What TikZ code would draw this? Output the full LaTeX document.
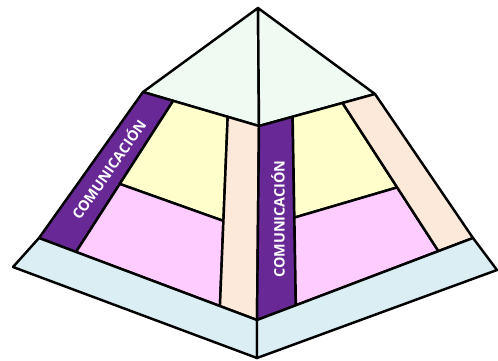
\documentclass[tikz,border=0pt]{standalone}
\usepackage{fontspec}
\newfontfamily\labelfont{Open Sans}
\usetikzlibrary{calc}

\definecolor{capgreen}{RGB}{238,250,242}
\definecolor{lightyellow}{RGB}{255,255,204}
\definecolor{lightpink}{RGB}{255,204,255}
\definecolor{peach}{RGB}{253,233,217}
\definecolor{baseblue}{RGB}{218,238,243}
\definecolor{compurple}{RGB}{104,40,150}

\begin{document}
\begin{tikzpicture}[
  x=0.02cm, y=-0.02cm,
  part/.style={draw=black, line width=1.4pt, line join=round},
  label/.style={text=white, font=\labelfont\bfseries\fontsize{8.2}{9}\selectfont, inner sep=0pt}
]
\useasboundingbox (0,0) rectangle (498,360);
% outline points
\coordinate (apex) at (258,8);
\coordinate (capL) at (143,92);
\coordinate (capR) at (375,94);
\coordinate (mid) at (259,126);
\coordinate (faceLB) at (39,238);
\coordinate (faceRB) at (473,238);
\coordinate (midB) at (257,320);
\coordinate (baseL) at (13,267);
\coordinate (baseR) at (497,270);
\coordinate (baseB) at (257,358);
% left face divisions
\coordinate (lp1) at ($(capL)!0.26!(mid)$);
\coordinate (lp2) at ($(faceLB)!0.17!(midB)$);
\coordinate (lt1) at ($(capL)!0.73!(mid)$);
\coordinate (lt2) at ($(faceLB)!0.83!(midB)$);
\coordinate (ly1) at ($(lp1)!0.55!(lp2)$);
\coordinate (ly2) at ($(lt1)!0.55!(lt2)$);
% right face divisions
\coordinate (rp1) at ($(mid)!0.29!(capR)$);
\coordinate (rp2) at ($(midB)!0.18!(faceRB)$);
\coordinate (rt1) at ($(mid)!0.72!(capR)$);
\coordinate (rt2) at ($(midB)!0.84!(faceRB)$);
\coordinate (ry1) at ($(rp1)!0.535!(rp2)$);
\coordinate (ry2) at ($(rt1)!0.57!(rt2)$);

% cap
\filldraw[part, fill=capgreen] (apex) -- (capL) -- (mid) -- cycle;
\filldraw[part, fill=capgreen] (apex) -- (mid) -- (capR) -- cycle;
% left face
\filldraw[part, fill=compurple] (capL) -- (lp1) -- (lp2) -- (faceLB) -- cycle;
\filldraw[part, fill=lightyellow] (lp1) -- (lt1) -- (ly2) -- (ly1) -- cycle;
\filldraw[part, fill=lightpink] (ly1) -- (ly2) -- (lt2) -- (lp2) -- cycle;
\filldraw[part, fill=peach] (lt1) -- (mid) -- (midB) -- (lt2) -- cycle;
% right face
\filldraw[part, fill=compurple] (mid) -- (rp1) -- (rp2) -- (midB) -- cycle;
\filldraw[part, fill=lightyellow] (rp1) -- (rt1) -- (ry2) -- (ry1) -- cycle;
\filldraw[part, fill=lightpink] (ry1) -- (ry2) -- (rt2) -- (rp2) -- cycle;
\filldraw[part, fill=peach] (rt1) -- (capR) -- (faceRB) -- (rt2) -- cycle;
% base
\filldraw[part, fill=baseblue] (baseL) -- (faceLB) -- (midB) -- (baseB) -- cycle;
\filldraw[part, fill=baseblue] (midB) -- (faceRB) -- (baseR) -- (baseB) -- cycle;

% labels
\node[label, rotate=55] (comleft) at (108,169) {COMUNICACIÓN};
\node[label, rotate=90] (comright) at (278,219) {COMUNICACIÓN};
\end{tikzpicture}
\end{document}
